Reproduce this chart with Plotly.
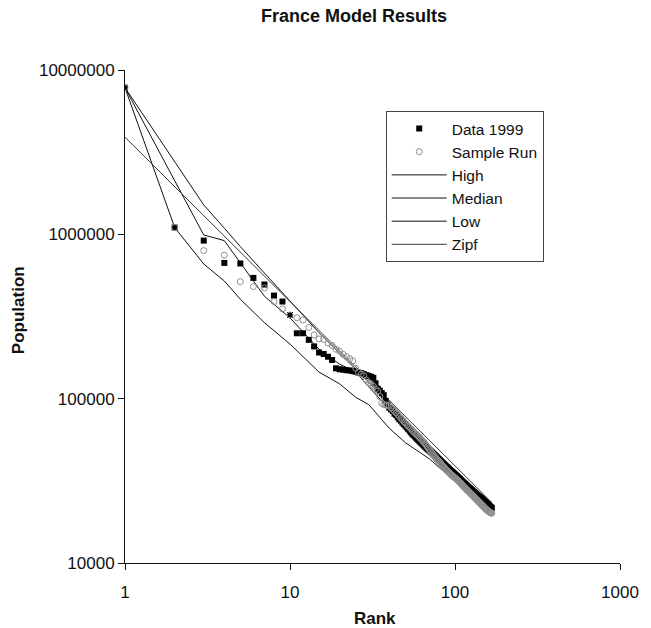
import plotly.graph_objects as go

# ---------------- data ----------------
data_1999 = [
    7800000, 1100000, 916000, 670000, 665000, 543000, 495000, 424000, 390000, 323000,
    250000, 250000, 228000, 208000, 191000, 187000, 180000, 172000, 153000, 151000,
    150000, 149000, 148500, 147000, 146000, 144000, 143000, 141000, 139000, 137500,
    136000, 134000, 124000, 115000, 112000, 108000, 105000, 97000, 92000, 88000,
    86000, 84000, 81000, 79500, 77000, 75000, 73500, 71500, 70000, 68500,
    67000, 65500, 64000, 62500, 61200, 60000, 59000, 58000, 57000, 56000,
    55000, 54200, 53400, 52600, 51800, 51000, 50300, 49600, 49000, 48500,
    47800, 47200, 46600, 46000, 45400, 44800, 44200, 43600, 43000, 42500,
    42000, 41500, 41000, 40500, 40000, 39600, 39200, 38800, 38400, 38000,
    37600, 37200, 36800, 36500, 36200, 35800, 35500, 35200, 34800, 34500,
    34200, 33900, 33600, 33300, 33000, 32700, 32400, 32100, 31800, 31500,
    31200, 31000, 30700, 30500, 30200, 30000, 29700, 29500, 29200, 29000,
    28800, 28600, 28400, 28200, 28000, 27800, 27600, 27400, 27200, 27000,
    26800, 26600, 26500, 26300, 26100, 25900, 25800, 25600, 25400, 25300,
    25100, 25000, 24800, 24700, 24500, 24400, 24200, 24100, 23900, 23800,
    23600, 23500, 23300, 23200, 23100, 22900, 22800, 22700, 22600, 22400,
    22300, 22200, 22000, 21900, 21800, 21700, 21600,
]

sample_run = [
    7800000, 1100000, 796000, 747000, 515000, 481000, 472000, 390000, 352000, 323000,
    311000, 301000, 271000, 244000, 231000, 230000, 218000, 211000, 200000, 194000,
    186000, 180000, 175000, 170000, 153000, 145000, 141000, 138000, 130000, 125000,
    122000, 119000, 114000, 111000, 103000, 94000, 92000, 91500, 91000, 90000,
    88000, 86000, 84000, 82000, 80000, 78000, 76000, 74500, 72500, 71000,
    69500, 68000, 66800, 65500, 64200, 63000, 62000, 61000, 60000, 59000,
    58000, 57000, 56000, 55000, 54000, 53000, 52000, 51000, 50000, 49000,
    48000, 47000, 46200, 45400, 44600, 43900, 43200, 42500, 42000, 41500,
    40900, 40300, 39700, 39100, 38600, 38100, 37600, 37100, 36700, 36300,
    35900, 35500, 35100, 34700, 34400, 34100, 33800, 33500, 33200, 33000,
    32700, 32400, 32100, 31800, 31500, 31200, 30900, 30600, 30300, 30000,
    29700, 29400, 29100, 28900, 28600, 28400, 28100, 27900, 27600, 27400,
    27200, 27000, 26700, 26500, 26300, 26100, 25900, 25700, 25500, 25300,
    25100, 24900, 24700, 24500, 24300, 24200, 24000, 23800, 23600, 23500,
    23300, 23100, 23000, 22800, 22600, 22500, 22300, 22200, 22000, 21900,
    21700, 21600, 21400, 21300, 21200, 21000, 20900, 20800, 20700, 20600,
    20500, 20400, 20300, 20250, 20200, 20150, 20100,
]

ranks = list(range(1, len(data_1999) + 1))

line_ranks = [1, 2, 3, 4, 5, 7, 10, 15, 20, 25, 30, 40, 50, 70, 100, 130, 167]
high = [7800000, 2770000, 1510000, 1090000, 842000, 581000, 395000, 252000, 189000,
        151000, 126000, 92000, 74000, 52000, 36500, 28300, 22300]
median = [7800000, 2120000, 991000, 916000, 667000, 420000, 310000, 200000, 162000,
          146000, 118000, 86000, 68000, 47000, 33000, 26500, 21500]
low = [7800000, 1100000, 660000, 520000, 403000, 290000, 215000, 145000, 123000,
       102000, 92000, 66000, 54000, 43000, 31300, 25300, 21000]

zipf_ranks = [1, 167]
zipf = [3900000, 23350]

x_ticks = [1, 10, 100, 1000]
x_tick_labels = ["1", "10", "100", "1000"]
y_ticks = [10000, 100000, 1000000, 10000000]
y_tick_labels = ["10000", "100000", "1000000", "10000000"]

FONT = "Liberation Sans, Arial, Helvetica, sans-serif"

fig = go.Figure()

fig.add_trace(go.Scatter(x=line_ranks, y=high, mode="lines", name="High",
                         line=dict(color="#111111", width=1), legendrank=3))
fig.add_trace(go.Scatter(x=line_ranks, y=median, mode="lines", name="Median",
                         line=dict(color="#111111", width=1), legendrank=4))
fig.add_trace(go.Scatter(x=line_ranks, y=low, mode="lines", name="Low",
                         line=dict(color="#111111", width=1), legendrank=5))
fig.add_trace(go.Scatter(x=zipf_ranks, y=zipf, mode="lines", name="Zipf",
                         line=dict(color="#3a3a3a", width=1), legendrank=6))
fig.add_trace(go.Scatter(x=ranks, y=data_1999, mode="markers", name="Data 1999",
                         marker=dict(symbol="square", size=6, color="#000000"),
                         legendrank=1))
fig.add_trace(go.Scatter(x=ranks, y=sample_run, mode="markers", name="Sample Run",
                         marker=dict(symbol="circle-open", size=6, color="#8f8f8f",
                                     line=dict(width=1, color="#8f8f8f")),
                         legendrank=2))

fig.update_layout(
    width=651, height=628,
    margin=dict(l=125, r=21, t=70, b=65),
    paper_bgcolor="white", plot_bgcolor="white",
    font=dict(family=FONT, color="#111111", size=17),
    title=dict(text="<b>France Model Results</b>", x=354 / 651, xanchor="center",
               y=1 - 16 / 628, yanchor="middle", font=dict(size=18, family=FONT)),
    showlegend=True,
    legend=dict(x=(391 - 125) / 505, y=(563 - 111) / 493, xanchor="left", yanchor="top",
                bgcolor="white", bordercolor="#444444", borderwidth=1,
                font=dict(size=15.5, family=FONT), itemwidth=55,
                tracegroupgap=0),
)

fig.update_xaxes(type="log", range=[0, 3], tickvals=x_ticks, ticktext=x_tick_labels,
                 showgrid=False, zeroline=False, showline=True, linecolor="#111111",
                 linewidth=1, ticks="outside", ticklen=6, tickcolor="#111111",
                 ticklabelstandoff=8, tickfont=dict(size=17))
fig.update_yaxes(type="log", range=[4, 7], tickvals=y_ticks, ticktext=y_tick_labels,
                 showgrid=False, zeroline=False, showline=True, linecolor="#111111",
                 linewidth=1, ticks="outside", ticklen=6, tickcolor="#111111",
                 tickfont=dict(size=17))

fig.add_annotation(text="<b>Rank</b>", xref="paper", yref="paper",
                   x=(380 - 125) / 505, y=(563 - 618) / 493, xanchor="center",
                   yanchor="middle", showarrow=False, font=dict(size=17, family=FONT))
fig.add_annotation(text="<b>Population</b>", xref="paper", yref="paper",
                   x=(16 - 125) / 505, y=(563 - 310) / 493, xanchor="center",
                   yanchor="middle", textangle=-90, showarrow=False,
                   font=dict(size=17, family=FONT))

fig.write_html("out.html")
